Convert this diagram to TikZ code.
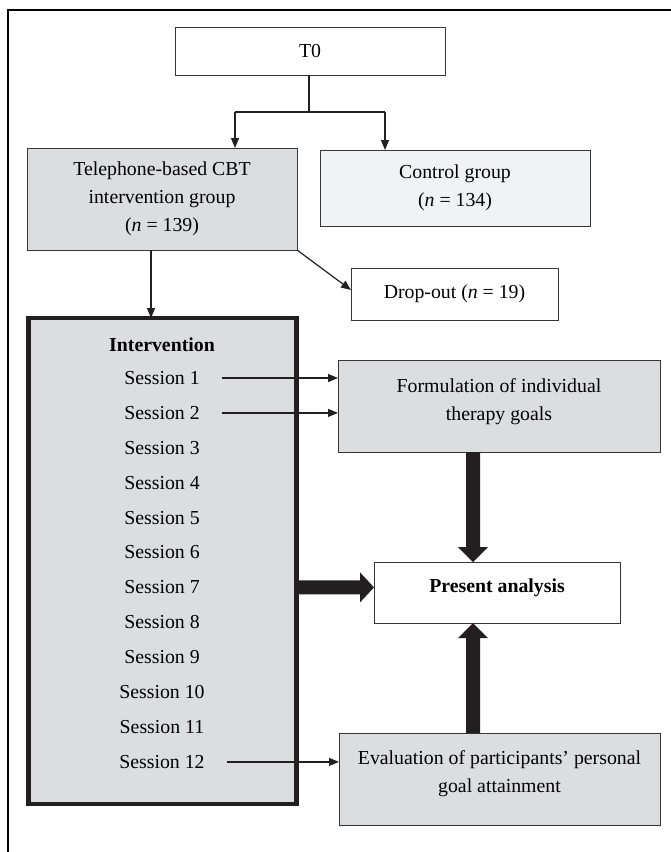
\documentclass[tikz,border=0pt]{standalone}
\usepackage{fontspec}
\setmainfont{Liberation Serif}
\usetikzlibrary{arrows.meta,calc}
\definecolor{boxgray}{HTML}{DCDDDF}
\definecolor{lightgray2}{HTML}{F1F2F4}
\definecolor{ink}{HTML}{231F20}
\begin{document}
\begin{tikzpicture}[x=1pt,y=-1pt,
  font=\fontsize{19.8pt}{28pt}\selectfont,
  box/.style={draw=ink!90, line width=1pt, inner sep=0pt, outer sep=0pt, align=center},
  lbl/.style={inner sep=0pt, outer sep=0pt, align=center},
  conn/.style={draw=ink, line width=1.2pt},
  arr/.style={draw=ink, line width=1.2pt, -{Triangle[length=10pt,width=8pt]}},
  fatarrow/.style={fill=ink, draw=none}]
\useasboundingbox (0,0) rectangle (671,852);
% outer frame (left and top only)
\draw[black, line width=2.6pt] (8,852) -- (8,10) -- (671,10);
% boxes
\node[box, minimum width=270pt, minimum height=48pt] (t0) at (310,51) {T0};
\node[box, fill=boxgray, minimum width=270pt, minimum height=102pt] (tel) at (162,199)
  {Telephone-based CBT\\intervention group\\(\textit{n} = 139)};
\node[box, fill=lightgray2, minimum width=270pt, minimum height=76pt] (ctl) at (455,188)
  {Control group\\(\textit{n} = 134)};
\node[box, minimum width=207pt, minimum height=52pt] (drop) at (454.5,294)
  {Drop-out (\textit{n} = 19)};
\node[box, draw=ink, fill=boxgray, line width=4.5pt, minimum width=268pt, minimum height=486pt] (int) at (162.5,561) {};
\node[lbl, font=\fontsize{19.8pt}{28pt}\selectfont\bfseries] (inttitle) at (162,345) {Intervention};
\foreach \k in {1,...,12} {
  \node[lbl] (s\k) at (162,{378+34.9*(\k-1)}) {Session \k};
}
\node[box, fill=boxgray, minimum width=322pt, minimum height=92pt] (form) at (499,406) {};
\node[lbl] (formtext) at (499,402) {Formulation of individual\\therapy goals};
\node[box, fill=white, minimum width=246pt, minimum height=61pt] (pres) at (497,592.5) {};
\node[lbl, font=\fontsize{19.8pt}{28pt}\selectfont\bfseries] (prestext) at (497,588) {Present analysis};
\node[box, fill=boxgray, minimum width=321pt, minimum height=92pt] (eval) at (499.5,779) {};
\node[lbl] (evaltext) at (499.5,774) {Evaluation of participants’ personal\\goal attainment};
% T0 split
\coordinate (j) at (309,112);
\coordinate (jl) at (235,112);
\coordinate (jr) at (385,112);
\draw[conn] (t0.south -| j) -- (j);
\draw[conn] (jl) -- (jr);
\draw[arr] (jl) -- (jl |- tel.north);
\draw[arr] (jr) -- (jr |- ctl.north);
% telephone group onward
\coordinate (tx) at (151,0);
\draw[arr] (tel.south -| tx) -- (int.north -| tx);
\draw[arr] (tel.south east) -- ([yshift=4pt]drop.west);
% session arrows
\draw[arr] ([xshift=22pt]s1.east) -- (form.west |- s1);
\draw[arr] ([xshift=22pt]s2.east) -- (form.west |- s2);
\draw[arr] ([xshift=22pt]s12.east) -- (eval.west |- s12);
% fat arrows
\coordinate (fx) at (473,0);
\coordinate (dS) at (form.south -| fx);
\coordinate (dT) at (pres.north -| fx);
\fill[fatarrow] ($(dS)+(-7,0)$) -- ($(dT)+(-7,-15)$) -- ($(dT)+(-15,-15)$) -- (dT)
  -- ($(dT)+(15,-15)$) -- ($(dT)+(7,-15)$) -- ($(dS)+(7,0)$) -- cycle;
\coordinate (uS) at (eval.north -| fx);
\coordinate (uT) at (pres.south -| fx);
\fill[fatarrow] ($(uS)+(-7,0)$) -- ($(uT)+(-7,15)$) -- ($(uT)+(-15,15)$) -- (uT)
  -- ($(uT)+(15,15)$) -- ($(uT)+(7,15)$) -- ($(uS)+(7,0)$) -- cycle;
\coordinate (hS) at (int.east |- s7);
\coordinate (hT) at (pres.west |- s7);
\fill[fatarrow] ($(hS)+(0,-7)$) -- ($(hT)+(-14,-7)$) -- ($(hT)+(-14,-15)$) -- (hT)
  -- ($(hT)+(-14,15)$) -- ($(hT)+(-14,7)$) -- ($(hS)+(0,7)$) -- cycle;
\end{tikzpicture}
\end{document}
